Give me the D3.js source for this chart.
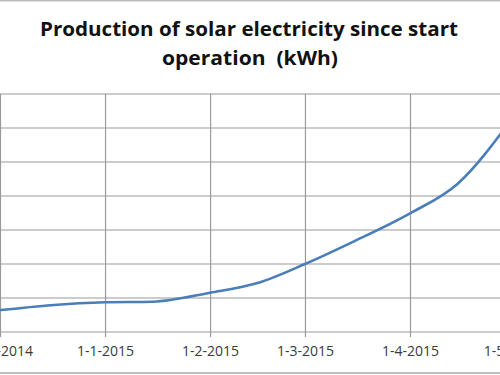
<!DOCTYPE html>
<html>
<head>
<meta charset="utf-8">
<script src="https://cdn.jsdelivr.net/npm/d3@7"></script>
<style>
  html, body { margin: 0; padding: 0; background: #fff; }
  svg { display: block; }
  .title { white-space: pre; }
</style>
</head>
<body>
<svg class="chart-solar" width="500" height="375"></svg>
<script>
// readings (cumulative kWh)
var dates = ["2014-11-15", "2014-12-01", "2014-12-15", "2015-01-01", "2015-01-15",
             "2015-02-01", "2015-02-15", "2015-03-01", "2015-03-15", "2015-04-01",
             "2015-04-15", "2015-05-01"];
var kwh = [106, 129, 156, 175, 178, 231, 288, 400, 529, 698, 871, 1253];

var monthTicks = ["2014-12-01", "2015-01-01", "2015-02-01", "2015-03-01", "2015-04-01", "2015-05-01"];
var kwhTicks = [0, 200, 400, 600, 800, 1000, 1200, 1400];
var titleLines = ["Production of solar electricity since start", "operation  (kWh)"];

var parse = d3.timeParse("%Y-%m-%d");
var data = dates.map(function (d, i) { return { date: parse(d), v: kwh[i] }; });

// plot area: the left part of the chart is cut off in the picture
var plot = { top: 94, bottom: 332, right: 500 };

var svg = d3.select("svg.chart-solar");

// outer chart frame (only top and bottom edges are visible)
svg.append("line").attr("x1", 0).attr("x2", 500).attr("y1", 0.5).attr("y2", 0.5)
   .attr("stroke", "#bdbdbd").attr("stroke-width", 2);
svg.append("line").attr("x1", 0).attr("x2", 500).attr("y1", 373).attr("y2", 373)
   .attr("stroke", "#bdbdbd").attr("stroke-width", 2);

var x = d3.scaleTime()
    .domain([parse("2014-12-01"), parse("2015-04-01")])
    .range([0, 410]);

var y = d3.scaleLinear()
    .domain([0, 1400])
    .range([plot.bottom, plot.top]);

// horizontal gridlines
svg.append("g")
    .attr("class", "grid-y")
    .selectAll("line")
    .data(kwhTicks)
    .enter()
    .append("line")
    .attr("x1", -60)
    .attr("x2", plot.right)
    .attr("y1", function (d) { return y(d); })
    .attr("y2", function (d) { return y(d); })
    .attr("stroke", "#9a9a9a")
    .attr("stroke-width", 1.2);

// vertical gridlines + bottom axis
var xAxis = d3.axisBottom(x)
    .tickValues(monthTicks.map(parse))
    .tickFormat(d3.timeFormat("%-d-%-m-%Y"))
    .tickSizeInner(-(plot.bottom - plot.top))
    .tickSizeOuter(0)
    .tickPadding(14);

var gx = svg.append("g")
    .attr("class", "axis-x")
    .attr("transform", "translate(0," + plot.bottom + ")")
    .call(xAxis);

gx.select(".domain").remove();
gx.selectAll(".tick line")
    .attr("y1", 5)
    .attr("stroke", "#9a9a9a")
    .attr("stroke-width", 1.2);
gx.selectAll(".tick text")
    .attr("font-family", "'Open Sans', sans-serif")
    .attr("font-size", 14)
    .attr("fill", "#3a3a3a");

// the production line
var line = d3.line()
    .curve(d3.curveMonotoneX)
    .x(function (d) { return x(d.date); })
    .y(function (d) { return y(d.v); });

svg.append("path")
    .datum(data)
    .attr("d", line)
    .attr("fill", "none")
    .attr("stroke", "#4a7ebb")
    .attr("stroke-width", 2.6)
    .attr("stroke-linejoin", "round");

// title (two lines, keeps the double space)
svg.append("text")
    .attr("class", "title")
    .attr("x", 249).attr("y", 36)
    .attr("text-anchor", "middle")
    .attr("font-family", "'Open Sans', sans-serif")
    .attr("font-weight", "bold")
    .attr("font-size", 20)
    .attr("fill", "#111")
    .attr("textLength", 418)
    .attr("lengthAdjust", "spacingAndGlyphs")
    .text(titleLines[0]);

svg.append("text")
    .attr("class", "title")
    .attr("x", 250).attr("y", 65)
    .attr("text-anchor", "middle")
    .attr("font-family", "'Open Sans', sans-serif")
    .attr("font-weight", "bold")
    .attr("font-size", 20)
    .attr("fill", "#111")
    .attr("textLength", 176)
    .attr("lengthAdjust", "spacingAndGlyphs")
    .text(titleLines[1]);
</script>
</body>
</html>
